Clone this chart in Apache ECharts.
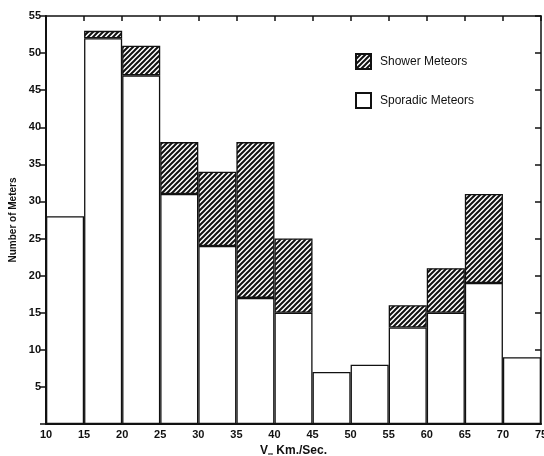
<!DOCTYPE html>
<html>
<head>
<meta charset="utf-8">
<script src="https://cdn.jsdelivr.net/npm/echarts@6/dist/echarts.min.js"></script>
<style>
  html, body { margin: 0; padding: 0; background: #fff; }
  #chart { width: 544px; height: 456px; }
</style>
</head>
<body>
<div id="chart"></div>
<script>
// velocity bins (km/s), lower edges
const binStarts = [10, 15, 20, 25, 30, 35, 40, 45, 50, 55, 60, 65, 70];
const sporadic = [28, 52, 47, 31, 24, 17, 15, 7, 8, 13, 15, 19, 9];
const shower = [0, 1, 4, 7, 10, 21, 10, 0, 0, 3, 6, 12, 0];

// diagonal hatch pattern
function hatch() {
  const c = document.createElement('canvas');
  c.width = 5; c.height = 5;
  const ctx = c.getContext('2d');
  ctx.fillStyle = '#fff';
  ctx.fillRect(0, 0, 5, 5);
  ctx.strokeStyle = '#111';
  ctx.lineWidth = 2;
  ctx.beginPath();
  ctx.moveTo(-1, 6); ctx.lineTo(6, -1);
  ctx.moveTo(-1, 1); ctx.lineTo(1, -1);
  ctx.moveTo(4, 6); ctx.lineTo(6, 4);
  ctx.stroke();
  return c;
}

const chart = echarts.init(document.getElementById('chart'));
const font = 'Liberation Sans';

chart.setOption({
  animation: false,
  textStyle: { fontFamily: font },
  grid: { left: 46, right: 3, top: 16, bottom: 32, outerBoundsMode: 'none', containLabel: false },
  legend: {
    orient: 'vertical',
    left: 350,
    top: 48,
    itemWidth: 15,
    itemHeight: 15,
    itemGap: 22,
    icon: 'rect',
    data: ['Shower Meteors', 'Sporadic Meteors'],
    textStyle: { fontFamily: font, fontSize: 12, color: '#111', padding: [0, 0, 0, 4] }
  },
  xAxis: [
    {
      type: 'category',
      data: binStarts.map(String),
      show: false
    },
    {
      type: 'value',
      min: 10, max: 75, interval: 5,
      position: 'bottom',
      axisLine: { lineStyle: { color: '#111', width: 2 } },
      axisTick: { show: false },
      axisLabel: { color: '#111', fontSize: 11, fontWeight: 'bold', margin: 5 },
      splitLine: { show: false },
      name: '{v|V}{s|∞} Km./Sec.',
      nameLocation: 'middle',
      nameGap: 17,
      nameTextStyle: {
        color: '#111', fontSize: 12, fontWeight: 'bold',
        rich: {
          v: { fontSize: 12, fontWeight: 'bold', color: '#111' },
          s: { fontSize: 7, color: '#111', verticalAlign: 'bottom', padding: [6, 0, 0, 0] }
        }
      }
    },
    {
      type: 'value',
      min: 10, max: 75, interval: 5,
      position: 'top',
      axisLine: { lineStyle: { color: '#111', width: 1.5 } },
      axisTick: { inside: true, length: 5, lineStyle: { color: '#111', width: 1.5 } },
      axisLabel: { show: false },
      splitLine: { show: false }
    }
  ],
  yAxis: [
    {
      type: 'value',
      min: 0, max: 55, interval: 5,
      axisLine: { show: true, lineStyle: { color: '#111', width: 2 } },
      axisTick: { show: true, length: 6, lineStyle: { color: '#111', width: 1.5 } },
      axisLabel: {
        color: '#111', fontSize: 11, fontWeight: 'bold', margin: 5,
        formatter: v => (v === 0 ? '' : v)
      },
      splitLine: { show: false },
      name: 'Number of Meters',
      nameLocation: 'middle',
      nameGap: 28,
      nameTextStyle: { color: '#111', fontSize: 10, fontWeight: 'bold' }
    },
    {
      type: 'value',
      min: 0, max: 55, interval: 5,
      position: 'right',
      axisLine: { show: true, lineStyle: { color: '#111', width: 1.5 } },
      axisTick: { show: true, inside: true, length: 6, lineStyle: { color: '#111', width: 1.5 } },
      axisLabel: { show: false },
      splitLine: { show: false }
    }
  ],
  series: [
    {
      name: 'Sporadic Meteors',
      type: 'bar',
      stack: 'm',
      xAxisIndex: 0,
      yAxisIndex: 0,
      barWidth: '100%',
      data: sporadic,
      itemStyle: { color: '#fff', borderColor: '#111', borderWidth: 1.3 }
    },
    {
      name: 'Shower Meteors',
      type: 'bar',
      stack: 'm',
      xAxisIndex: 0,
      yAxisIndex: 0,
      barWidth: '100%',
      data: shower.map(v => (v === 0 ? '-' : v)),
      itemStyle: { color: { image: hatch(), repeat: 'repeat' }, borderColor: '#111', borderWidth: 1.3 }
    }
  ]
});
</script>
</body>
</html>
